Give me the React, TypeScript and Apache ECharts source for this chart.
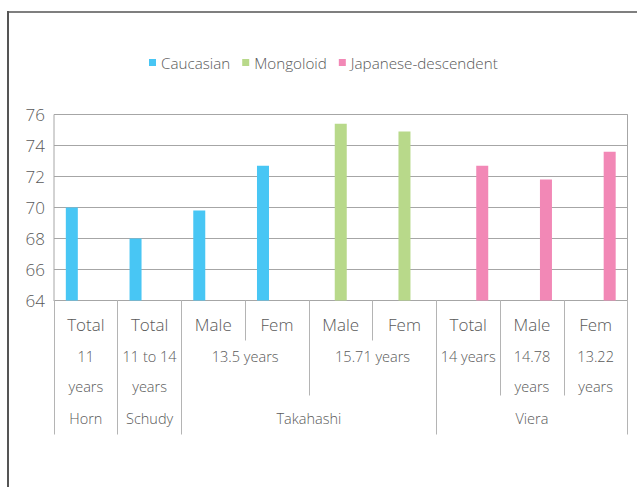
import React, { useEffect, useRef } from "react";
import * as echarts from "echarts";

const categories = ["Total", "Total", "Male", "Fem", "Male", "Fem", "Total", "Male", "Fem"];
const caucasian = [70.0, 68.0, 69.8, 72.7, null, null, null, null, null];
const mongoloid = [null, null, null, null, 75.4, 74.9, null, null, null];
const japanese = [null, null, null, null, null, null, 72.7, 71.8, 73.6];

const ageGroups = [
  { label: "11\nyears", span: 1 },
  { label: "11 to 14\nyears", span: 1 },
  { label: "13.5 years", span: 2 },
  { label: "15.71 years", span: 2 },
  { label: "14 years", span: 1 },
  { label: "14.78\nyears", span: 1 },
  { label: "13.22\nyears", span: 1 },
];
const studies = [
  { label: "Horn", span: 1 },
  { label: "Schudy", span: 1 },
  { label: "Takahashi", span: 4 },
  { label: "Viera", span: 3 },
];

const yMin = 64;
const yMax = 76;
const yStep = 2;

const FONT = "'Open Sans', 'Noto Sans', sans-serif";
const TEXT = "#595959";
const SEP = "#b4b4b4";

function buildSlots(groups: { label: string; span: number }[]) {
  const n = categories.length * 2 + 1;
  const labels: string[] = new Array(n).fill("");
  const ticks = new Set<number>();
  let cursor = 0;
  groups.forEach((g) => {
    const start = cursor;
    const end = cursor + g.span;
    labels[start + end] = g.label;
    ticks.add(2 * start);
    ticks.add(2 * end);
    cursor = end;
  });
  return { labels, ticks };
}

export default function App() {
  const ref = useRef<HTMLDivElement>(null);
  useEffect(() => {
    if (!ref.current) return;
    const chart = echarts.init(ref.current, undefined, { renderer: "svg" });
    const age = buildSlots(ageGroups);
    const study = buildSlots(studies);
    const slotAxis = (
      slots: { labels: string[]; ticks: Set<number> },
      tickLen: number,
      margin: number
    ) => ({
      type: "category",
      position: "bottom",
      boundaryGap: false,
      data: slots.labels,
      axisLine: { show: false },
      splitLine: { show: false },
      axisTick: {
        show: true,
        length: tickLen,
        interval: (i: number) => slots.ticks.has(i),
        lineStyle: { color: SEP, width: 1 },
      },
      axisLabel: {
        interval: 0,
        margin,
        fontSize: 14.5,
        lineHeight: 30,
        color: TEXT,
        fontFamily: FONT,
        fontWeight: 300,
      },
    });
    chart.setOption({
      animation: false,
      textStyle: { fontFamily: FONT },
      legend: {
        data: ["Caucasian", "Mongoloid", "Japanese-descendent"],
        icon: "rect",
        itemWidth: 7,
        itemHeight: 7,
        itemGap: 12,
        left: 149,
        top: 55,
        padding: 0,
        textStyle: { fontSize: 15.2, color: TEXT, fontFamily: FONT, fontWeight: 300 },
      },
      graphic: [
        { type: "line", shape: { x1: 8, y1: 12, x2: 637, y2: 12 }, style: { stroke: "#555", lineWidth: 1.5 } },
        { type: "line", shape: { x1: 8, y1: 11, x2: 8, y2: 487 }, style: { stroke: "#555", lineWidth: 2 } },
      ],
      grid: {
        left: 54,
        top: 114.5,
        right: 9.5,
        bottom: 186.5,
        show: true,
        borderColor: "#a6a6a6",
        borderWidth: 1,
      },
      yAxis: {
        type: "value",
        min: yMin,
        max: yMax,
        interval: yStep,
        axisLine: { show: false },
        axisTick: { show: false },
        splitLine: { lineStyle: { color: "#a6a6a6", width: 1 } },
        axisLabel: { fontSize: 17, color: TEXT, margin: 9, fontFamily: FONT, fontWeight: 300 },
      },
      xAxis: [
        {
          type: "category",
          position: "bottom",
          data: categories,
          axisLine: { show: true, lineStyle: { color: "#a6a6a6" } },
          axisTick: { show: true, length: 40, interval: 0, lineStyle: { color: SEP } },
          axisLabel: {
            interval: 0,
            margin: 14,
            fontSize: 17,
            lineHeight: 20,
            color: TEXT,
            fontFamily: FONT,
            fontWeight: 300,
          },
        },
        slotAxis(age, 95, 41),
        slotAxis(study, 134, 103),
      ],
      series: [
        { name: "Caucasian", type: "bar", data: caucasian, barWidth: 12, barGap: "17%", itemStyle: { color: "#48C6F4" } },
        { name: "Mongoloid", type: "bar", data: mongoloid, barWidth: 12, barGap: "17%", itemStyle: { color: "#B8D98A" } },
        { name: "Japanese-descendent", type: "bar", data: japanese, barWidth: 12, barGap: "17%", itemStyle: { color: "#F288B6" } },
      ],
    });
    return () => chart.dispose();
  }, []);
  return (
    <div
      ref={ref}
      style={{ position: "fixed", left: 0, top: 0, width: 637, height: 487, background: "#fff" }}
    />
  );
}
